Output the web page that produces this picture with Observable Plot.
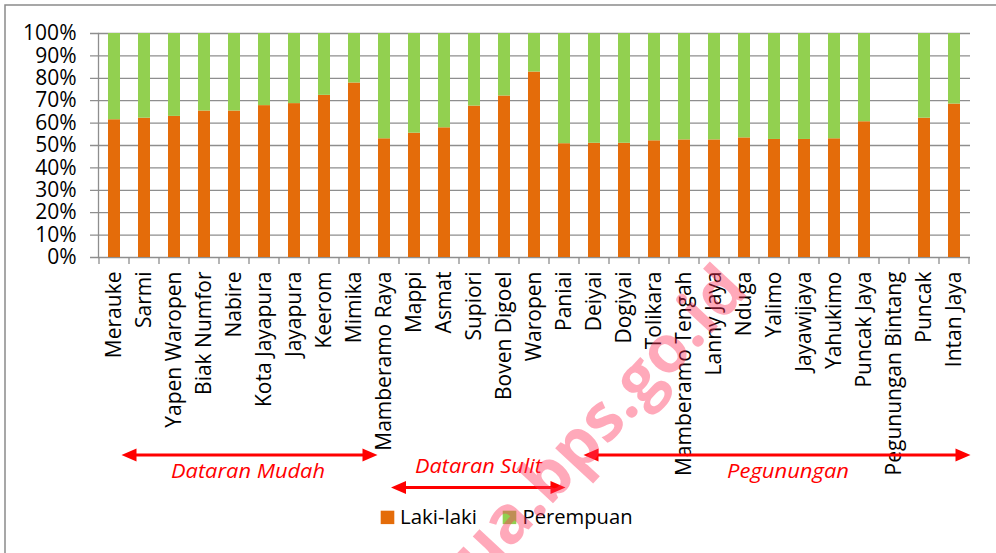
<!DOCTYPE html>
<html><head><meta charset="utf-8">
<script src="https://cdn.jsdelivr.net/npm/d3@7"></script>
<script src="https://cdn.jsdelivr.net/npm/@observablehq/plot@0.6"></script>
<style>body{margin:0;background:#fff} svg{display:block}</style>
</head><body><div id="chart"></div>
<script>
const categories = ["Merauke","Sarmi","Yapen Waropen","Biak Numfor","Nabire","Kota Jayapura","Jayapura","Keerom","Mimika","Mamberamo Raya","Mappi","Asmat","Supiori","Boven Digoel","Waropen","Paniai","Deiyai","Dogiyai","Tolikara","Mamberamo Tengah","Lanny Jaya","Nduga","Yalimo","Jayawijaya","Yahukimo","Puncak Jaya","Pegunungan Bintang","Puncak","Intan Jaya"];
const lakiLaki  = [61.5,62.2,63.0,65.4,65.4,67.8,68.7,72.4,77.9,53.0,55.5,57.9,67.6,72.1,82.8,50.8,51.0,51.0,52.1,52.5,52.5,53.4,52.7,52.7,53.0,60.6,0,62.2,68.5];
const perempuan = [38.5,37.8,37.0,34.6,34.6,32.2,31.3,27.6,22.1,47.0,44.5,42.1,32.4,27.9,17.2,49.2,49.0,49.0,47.9,47.5,47.5,46.6,47.3,47.3,47.0,39.4,0,37.8,31.5];
const seriesNames = ["Laki-laki","Perempuan"];
const seriesColors = ["#E46C0A","#92D050"];
const yTicks = [0,0.1,0.2,0.3,0.4,0.5,0.6,0.7,0.8,0.9,1];
const groupLabels = ["Dataran Mudah","Dataran Sulit","Pegunungan"];
const watermark = "papua.bps.go.id";

const rows = [];
categories.forEach((c,i)=>{
  rows.push({kab:c, jenis:seriesNames[0], v:lakiLaki[i]/100});
  rows.push({kab:c, jenis:seriesNames[1], v:perempuan[i]/100});
});

const grid = "#8e8e8e";
const plot = Plot.plot({
  width:996, height:553,
  marginLeft:98, marginRight:26, marginTop:33, marginBottom:296,
  style:{fontFamily:"'Open Sans', sans-serif", fontSize:"21px", color:"#000", background:"#fff", overflow:"visible"},
  x:{domain:categories, paddingInner:0.6, paddingOuter:0.3, label:null},
  y:{domain:[0,1], label:null},
  color:{domain:seriesNames, range:seriesColors},
  marks:[
    Plot.ruleY(yTicks, {stroke:grid, strokeWidth:1.3, insetLeft:-8}),
    Plot.barY(rows, Plot.stackY({x:"kab", y:"v", fill:"jenis", order:seriesNames})),
    Plot.frame({anchor:"left", stroke:grid, strokeWidth:1.3}),
    Plot.axisY(yTicks, {tickFormat:d3.format(".0%"), tickSize:0, tickPadding:22, fontSize:21, fill:"#000"}),
    Plot.axisX({tickRotate:-90, tickSize:0, tickPadding:14, fontSize:21, fill:"#000"})
  ]
});
document.getElementById("chart").appendChild(plot);

const svg = d3.select(plot);
const xs = plot.scale("x"), ys = plot.scale("y");
const y0 = ys.apply(0);
const gap = (xs.step - xs.bandwidth)/2;
const bounds = categories.map(c => xs.apply(c) - gap);
bounds.push(xs.apply(categories[categories.length-1]) + xs.bandwidth + gap);
const g = svg.append("g").attr("text-anchor","start");
g.selectAll("line.t").data(bounds).join("line")
  .attr("x1",d=>d).attr("x2",d=>d).attr("y1",y0).attr("y2",y0+7)
  .attr("stroke",grid).attr("stroke-width",1.3);

// chart border
g.append("rect").attr("x",5).attr("y",5).attr("width",1200).attr("height",800)
  .attr("fill","none").attr("stroke","#8a8a8a").attr("stroke-width",1.5);

function arrow(x1,x2,y){
  g.append("line").attr("x1",x1+10).attr("x2",x2-10).attr("y1",y).attr("y2",y)
    .attr("stroke","#ff0000").attr("stroke-width",3);
  g.append("path").attr("d",`M${x1},${y}L${x1+15},${y-6.5}L${x1+15},${y+6.5}Z`).attr("fill","#ff0000");
  g.append("path").attr("d",`M${x2},${y}L${x2-15},${y-6.5}L${x2-15},${y+6.5}Z`).attr("fill","#ff0000");
}
arrow(121.5,377.5,455);
arrow(391,565.5,487.5);
arrow(583.5,970.5,455);
const lab = [[groupLabels[0],248,478,154],[groupLabels[1],478.5,473,127],[groupLabels[2],788,478,122]];
lab.forEach(([t,x,y,w])=>{
  g.append("text").attr("x",x).attr("y",y).attr("text-anchor","middle")
   .attr("font-family","'Open Sans', sans-serif").attr("font-style","italic").attr("font-size",20)
   .attr("fill","#ff0000").attr("textLength",w).attr("lengthAdjust","spacingAndGlyphs").text(t);
});

// legend
const leg = [[380.7,400,seriesNames[0],77],[502.7,522.5,seriesNames[1],110]];
leg.forEach(([sx,tx,t,w],i)=>{
  g.append("rect").attr("x",sx).attr("y",510.7).attr("width",13.6).attr("height",13.4).attr("fill",seriesColors[i]);
  g.append("text").attr("x",tx).attr("y",523.5).attr("text-anchor","start").attr("font-family","'Open Sans', sans-serif")
   .attr("font-size",20).attr("fill","#000").attr("textLength",w).attr("lengthAdjust","spacingAndGlyphs").text(t);
});

// watermark
g.append("text").attr("transform","translate(750,292) rotate(-47)").attr("text-anchor","end")
  .attr("font-family","'Open Sans', sans-serif").attr("font-weight","bold").attr("font-size",66)
  .attr("fill","rgb(255,50,90)").attr("fill-opacity",0.42).text(watermark);
</script></body></html>
